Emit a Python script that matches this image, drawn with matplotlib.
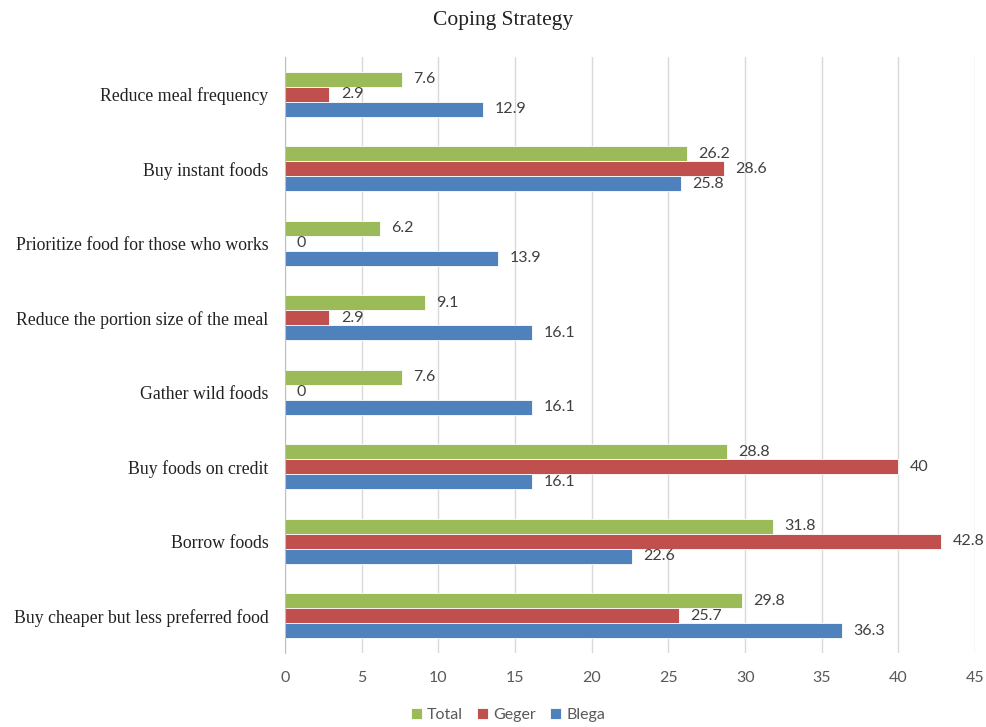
import matplotlib
matplotlib.use("Agg")
import matplotlib.pyplot as plt
import numpy as np

categories = [
    "Buy cheaper but less preferred food",
    "Borrow foods",
    "Buy foods on credit",
    "Gather wild foods",
    "Reduce the portion size of the meal",
    "Prioritize food for those who works",
    "Buy instant foods",
    "Reduce meal frequency",
]
total = [29.8, 31.8, 28.8, 7.6, 9.1, 6.2, 26.2, 7.6]
geger = [25.7, 42.8, 40, 0, 2.9, 0, 28.6, 2.9]
blega = [36.3, 22.6, 16.1, 16.1, 16.1, 13.9, 25.8, 12.9]
xticks = [0, 5, 10, 15, 20, 25, 30, 35, 40, 45]

c_total = "#9BBB59"
c_geger = "#C0504D"
c_blega = "#4F81BD"

fig = plt.figure(figsize=(9.86, 7.27), dpi=100)
ax = fig.add_axes([0.289, 0.1018, 0.700, 0.8198])

y = np.arange(len(categories))
h = 0.2
label_font = dict(family="Lato", size=11.5, color="#404040")

series = [(total, c_total, "Total", h), (geger, c_geger, "Geger", 0), (blega, c_blega, "Blega", -h)]
handles = []
for vals, col, name, off in series:
    bars = ax.barh(y + off, vals, height=h, color=col, edgecolor="white", linewidth=0.6, label=name, zorder=3)
    handles.append(bars)
    for yi, v in zip(y + off, vals):
        ax.text(v + 0.75, yi, f"{v:g}", va="center", ha="left", **label_font)

ax.set_xlim(0, 45)
ax.set_ylim(-0.5, len(categories) - 0.5)
ax.set_xticks(xticks)
ax.set_xticklabels([str(t) for t in xticks], family="Lato", fontsize=11.5, color="#595959")
ax.set_yticks(y)
ax.set_yticklabels(categories, family="Liberation Serif", fontsize=12.8, color="#222222")
ax.tick_params(axis="y", length=0, pad=12)
ax.tick_params(axis="x", length=0, pad=13)
ax.grid(axis="x", color="#d9d9d9", linewidth=1, zorder=0)
for s in ["top", "right", "bottom"]:
    ax.spines[s].set_visible(False)
ax.spines["left"].set_color("#bfbfbf")
ax.spines["left"].set_zorder(4)

fig.text(0.51, 0.972, "Coping Strategy", ha="center", va="center",
         family="Liberation Serif", fontsize=15.5, color="#222222")

leg = fig.legend(handles=handles, labels=["Total", "Geger", "Blega"], loc="center",
                 bbox_to_anchor=(0.515, 0.016), ncol=3, frameon=False,
                 prop=dict(family="Lato", size=11.5), handlelength=0.7, handleheight=0.7,
                 columnspacing=0.9, handletextpad=0.3)
for t in leg.get_texts():
    t.set_color("#595959")

fig.savefig("out.png", dpi=100)
